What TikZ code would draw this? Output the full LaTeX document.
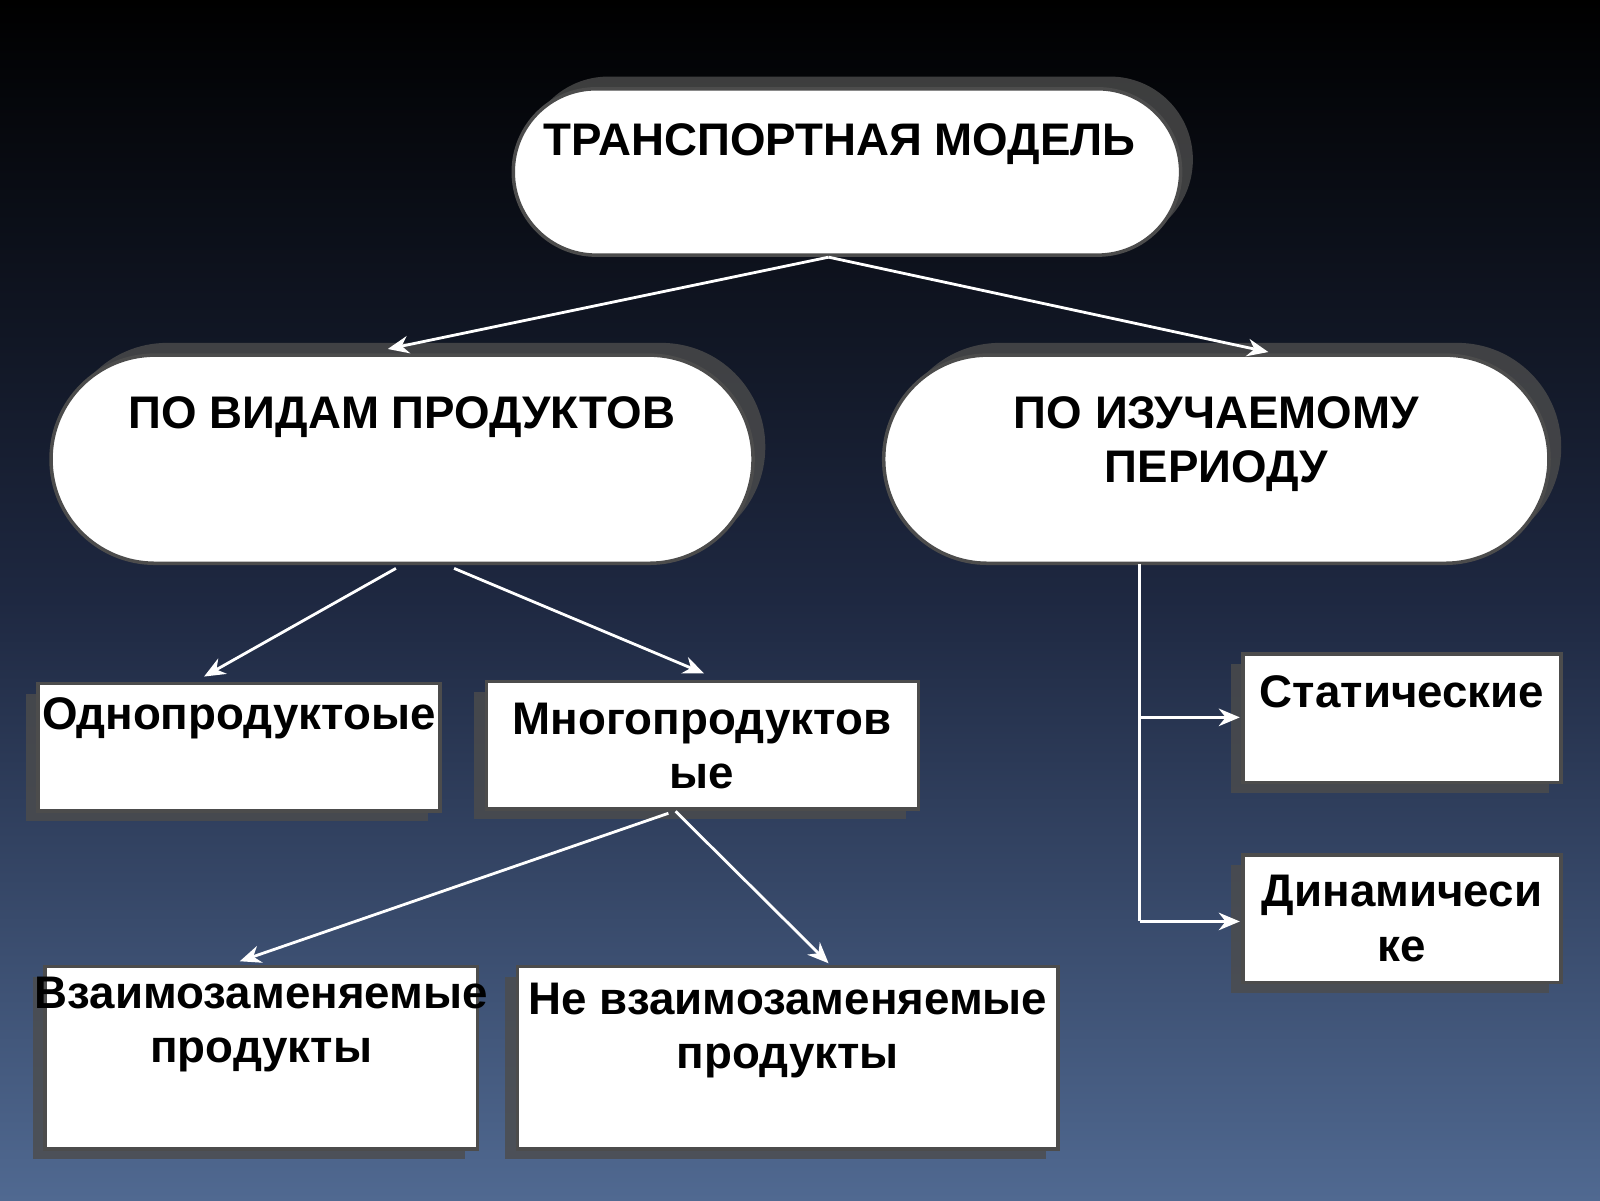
\documentclass[tikz,border=0pt]{standalone}
\usepackage{fontspec}
\setmainfont{Liberation Sans}
\usetikzlibrary{arrows.meta}
\begin{document}
\begin{tikzpicture}[x=0.010204cm,y=-0.010204cm,
  txt/.style={font=\bfseries\fontsize{13}{15.5}\selectfont,text=black,align=center},
  box/.style={fill=white,draw=black!70,line width=1pt},
  shad/.style={fill=gray!60!black,opacity=0.8},
  conn/.style={draw=white,line width=0.8pt,-{Stealth[length=6pt,width=5pt]}},
  ln/.style={draw=white,line width=0.8pt}]
\shade[top color=black,bottom color={rgb,255:red,80;green,105;blue,145},middle color={rgb,255:red,30;green,40;blue,65}] (0,0) rectangle (1568,1176);
\useasboundingbox (0,0) rectangle (1568,1176);
% stadiums
\fill[shad,rounded corners=0.83cm] (515,75) rectangle (1169,238);
\fill[box,rounded corners=0.83cm] (503,87) rectangle (1157,250);
\fill[shad,rounded corners=1.04cm] (62,336) rectangle (750,540);
\fill[box,rounded corners=1.04cm] (50,348) rectangle (738,552);
\fill[shad,rounded corners=1.04cm] (878,336) rectangle (1530,540);
\fill[box,rounded corners=1.04cm] (866,348) rectangle (1518,552);
\node[txt] (top) at (823,141) {ТРАНСПОРТНАЯ МОДЕЛЬ};
\node[txt] (vid) at (394,409) {ПО ВИДАМ ПРОДУКТОВ};
\node[txt] (per) at (1192,435) {ПО ИЗУЧАЕМОМУ\\ПЕРИОДУ};
% boxes
\foreach \a/\b/\c/\d in {37/670/431/795,477/668/900/793,1218/641/1530/767,1218/838/1530/963,44/947/468/1126,507/947/1037/1126}{
  \fill[shad] (\a-12,\b+10) rectangle (\c-12,\d+10);
  \filldraw[box] (\a,\b) rectangle (\c,\d);}
\node[txt] (odn) at (234,704) {Однопродуктоые};
\node[txt] (mn) at (688,731) {Многопродуктов\\ые};
\node[txt] (st) at (1374,678) {Статические};
\node[txt] (din) at (1374,900) {Динамичеси\\ке};
\node[txt] (vz) at (256,1004) {Взаимозаменяемые\\продукты};
\node[txt] (nvz) at (772,1010) {Не взаимозаменяемые\\продукты};
% connector points
\coordinate (t0) at (812,252);
\coordinate (a1) at (380,342); \coordinate (a2) at (1243,345);
\coordinate (v1) at (388,557); \coordinate (v2) at (445,557);
\coordinate (b1) at (200,663); \coordinate (b2) at (690,660);
\coordinate (m1) at (655,797); \coordinate (m2) at (662,795);
\coordinate (c1) at (235,942); \coordinate (c2) at (812,944);
\coordinate (p0) at (1117,553); \coordinate (p1) at (1117,703); \coordinate (p2) at (1117,903);
\coordinate (s1) at (1215,703); \coordinate (s2) at (1215,903);
\draw[conn] (t0) -- (a1); \draw[conn] (t0) -- (a2);
\draw[conn] (v1) -- (b1); \draw[conn] (v2) -- (b2);
\draw[conn] (m1) -- (c1); \draw[conn] (m2) -- (c2);
\draw[ln] (p0) -- (p2);
\draw[conn] (p1) -- (s1); \draw[conn] (p2) -- (s2);
\end{tikzpicture}
\end{document}
